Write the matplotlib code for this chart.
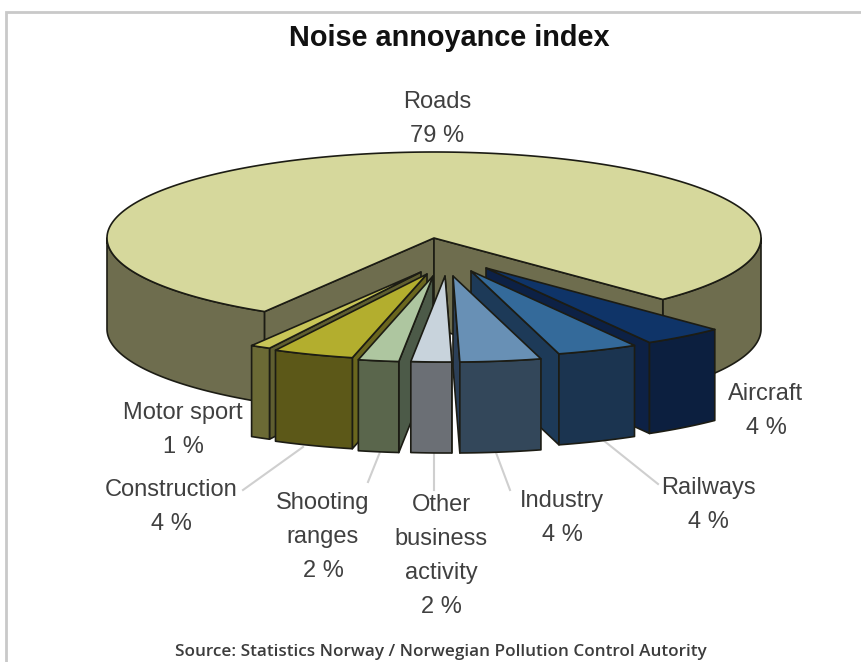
import numpy as np
import matplotlib
matplotlib.use('Agg')
import matplotlib.pyplot as plt
from matplotlib.patches import Polygon

# Datos (porcentajes, empezando por el corte derecho y girando hacia la izquierda)
names = ['Aircraft', 'Railways', 'Industry', 'Other business activity', 'Shooting ranges', 'Construction', 'Motor sport']
values = [4, 4, 4, 2, 2, 4, 1]
roads = 79

top_colors = ['#0f3468', '#346a9a', '#6890b5', '#c8d3dc', '#aec6a0', '#b3ae2e', '#c8c558']
side_colors = ['#0c1f3f', '#1b3450', '#33475a', '#6b6f75', '#5a664c', '#5c5818', '#6b6a35']
cut_colors = ['#0d2145', '#1d3a58', '#2c4058', '#5d6268', '#4c5a48', '#6a661e', '#5f5e30']
explode_x = [52, 37, 19, 11, -1, -7, -13]
explode_y = [30, 33, 38, 38, 38, 36, 34]

# Geometria del pastel en pixeles
cx, cy = 434, 238
rx, ry = 327, 86
depth_roads = 91
depth_slice = 91
start = 44.4

edge = '#1c1c14'


def arc(t1, t2, dx=0, dy=0, n=60):
    t = np.radians(np.linspace(t1, t2, n))
    return np.column_stack((cx + dx + rx * np.sin(t), cy + dy + ry * np.cos(t)))


def face(ax, pts, color, z):
    ax.add_patch(Polygon(pts, closed=True, facecolor=color, edgecolor=edge, lw=1.2, joinstyle='round', zorder=z))


fig = plt.figure(figsize=(8.62, 6.62), dpi=100)
ax = fig.add_axes([0, 0, 1, 1])
ax.set_xlim(0, 862)
ax.set_ylim(662, 0)
ax.axis('off')

# Marco
ax.plot([6, 6, 862], [662, 12, 12], color='#c9c9c9', lw=2, solid_joinstyle='miter', zorder=0)

# Roads
end = start - sum(values) * 3.6
road_top = '#d6d89c'
road_side = '#6e6d4e'
down = np.array([0, depth_roads])
apex = np.array([[cx, cy]])

left_arc = arc(-90, end)
right_arc = arc(start, 90)
face(ax, np.vstack((left_arc, (left_arc + down)[::-1])), road_side, 1)
face(ax, np.vstack((right_arc, (right_arc + down)[::-1])), road_side, 1)
for corner in (arc(end, end, n=1), arc(start, start, n=1)):
    face(ax, np.vstack((apex, corner, corner + down, apex + down)), road_side, 1)
face(ax, np.vstack((apex, arc(start, 360 + end, n=300))), road_top, 2)

# Porciones separadas, de los extremos hacia el centro
t = start
slices = []
for i, v in enumerate(values):
    slices.append((i, t, t - v * 3.6))
    t -= v * 3.6

order = sorted(slices, key=lambda s: -abs((s[1] + s[2]) / 2))
for z, (i, t1, t2) in enumerate(order):
    dx, dy = explode_x[i], explode_y[i]
    outer = arc(t1, t2, dx, dy, n=12)
    p0 = np.array([[cx + dx, cy + dy]])
    d = np.array([0, depth_slice])
    zz = 3 + z
    # cara del corte que queda a la vista
    mid = (t1 + t2) / 2
    corner = outer[-1:] if mid > 0 else outer[:1]
    face(ax, np.vstack((p0, corner, corner + d, p0 + d)), cut_colors[i], zz)
    face(ax, np.vstack((outer, (outer + d)[::-1])), side_colors[i], zz)
    face(ax, np.vstack((p0, outer)), top_colors[i], zz)

# Lineas guia
guides = [([303, 243], [447, 490]), ([380, 368], [452, 482]), ([434, 434], [452, 490]),
          ([495, 510], [450, 490]), ([603, 658], [440, 484])]
for gx, gy in guides:
    ax.plot(gx, gy, color='#cfcfcf', lw=1.5, zorder=1)

# Textos
plt.rcParams['font.family'] = ['Liberation Sans', 'DejaVu Sans']
ax.text(449, 38, 'Noise annoyance index', ha='center', va='center', fontsize=20.8, fontweight='bold', color='#111111')

label_text = ['Roads\n79 %', 'Aircraft\n4 %', 'Railways\n4 %', 'Industry\n4 %', 'Other\nbusiness\nactivity\n2 %',
              'Shooting\nranges\n2 %', 'Construction\n4 %', 'Motor sport\n1 %']
label_x = [437, 766, 708, 562, 441, 323, 171, 183]
label_y = [119, 411, 505, 518, 556, 537, 507, 430]
for s, lx, ly in zip(label_text, label_x, label_y):
    ax.text(lx, ly, s, ha='center', va='center', fontsize=17, color='#404040', linespacing=1.72, zorder=8)

ax.text(441, 652, 'Source: Statistics Norway / Norwegian Pollution Control Autority', ha='center', va='center',
        fontsize=12.3, family='Open Sans', fontweight='semibold', color='#3c3c3c')

fig.savefig('out.png', dpi=100)
